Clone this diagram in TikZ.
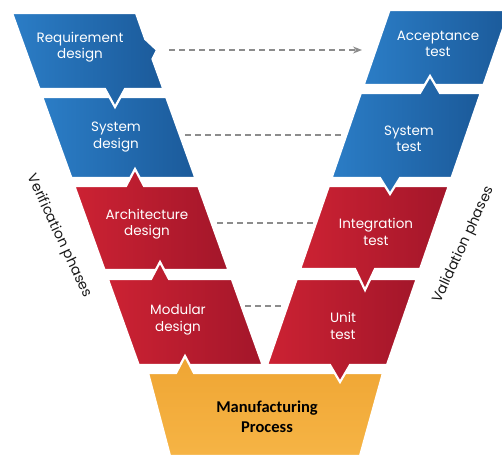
\documentclass[tikz,border=0pt]{standalone}
\usepackage{fontspec}
\newfontfamily\boxfont{Poppins}
\newfontfamily\mfont{Carlito}
\usetikzlibrary{arrows.meta}
\definecolor{blueL}{HTML}{2B7DC6}
\definecolor{blueD}{HTML}{1B5A9A}
\definecolor{redL}{HTML}{CC2233}
\definecolor{redD}{HTML}{A3162A}
\definecolor{orangeL}{HTML}{F6B445}
\definecolor{orangeD}{HTML}{EFA533}
\definecolor{dashgray}{HTML}{8C8C8C}
\tikzset{
  bluebox/.style={draw=white, line width=2.2pt, line join=miter, left color=blueL, right color=blueD},
  redbox/.style={draw=white, line width=2.2pt, line join=miter, left color=redL, right color=redD},
  orangebox/.style={draw=white, line width=2.2pt, line join=miter, top color=orangeD, bottom color=orangeL},
  boxtext/.style={text=white, font=\boxfont\fontsize{13.5}{16.5}\selectfont, align=center, inner sep=0pt},
  mtext/.style={text=black, font=\mfont\bfseries\fontsize{16.5}{20.5}\selectfont, align=center, inner sep=0pt},
  phase/.style={text=black!90, font=\boxfont\fontsize{14}{16}\selectfont, inner sep=0pt},
  link/.style={draw=dashgray, line width=1.1pt, dash pattern=on 6pt off 4pt}
}
\begin{document}
\begin{tikzpicture}[x=1pt,y=-1pt]
\useasboundingbox (0,0) rectangle (502,458);
% left column
\path[bluebox] (42.2,97) -- (166.2,97) -- (195.4,178) -- (71.4,178) -- cycle;
\path[bluebox] (12,13) -- (136,13) -- (145.2,39) -- (157,50) -- (152.5,59) -- (163.4,89)
  -- (125,89) -- (115,107) -- (105,89) -- (39.4,89) -- cycle;
\path[redbox] (74.3,186) -- (126,186) -- (135,169) -- (144,186) -- (198.3,186) -- (228.5,270) -- (104.5,270) -- cycle;
\path[redbox] (107.8,279) -- (151,279) -- (160,262) -- (169,279) -- (231.8,279) -- (262.7,365) -- (138.7,365) -- cycle;
% bottom
\path[orangebox] (148,373) -- (176,373) -- (185,356) -- (194,373) -- (383,373) -- (360,456) -- (170,456) -- cycle;
% right column
\path[redbox] (296.7,279) -- (416.7,279) -- (387,365) -- (350,365) -- (340,382) -- (330,365) -- (267,365) -- cycle;
\path[redbox] (328.8,186) -- (448.8,186) -- (420.1,269) -- (375,269) -- (365,290) -- (355,269) -- (300.1,269) -- cycle;
\path[bluebox] (389.5,10) -- (509.5,10) -- (483.6,85) -- (363.6,85) -- cycle;
\path[bluebox] (360.8,93) -- (420,93) -- (430,76) -- (440,93) -- (480.8,93) -- (451.5,178)
  -- (400,178) -- (390,194) -- (380,178) -- (331.5,178) -- cycle;
% texts
\node[boxtext] (req) at (80,47) {Requirement\\design};
\node[boxtext] (sysd) at (116,137) {System\\design};
\node[boxtext] (arch) at (147,224) {Architecture\\design};
\node[boxtext] (mod) at (178,320) {Modular\\design};
\node[boxtext] (acc) at (438,44) {Acceptance\\test};
\node[boxtext] (syst) at (409,139) {System\\test};
\node[boxtext] (integ) at (376,232) {Integration\\test};
\node[boxtext] (unit) at (343,326) {Unit\\test};
\node[mtext] (manu) at (267,417) {Manufacturing\\Process};
\node[phase, rotate=-65] (ver) at (59,236) {Verification phases};
\node[phase, rotate=65] (val) at (464,245) {Validation phases};
% dashed links
\coordinate (a1) at (169,50); \coordinate (b1) at (362,50);
\coordinate (a2) at (185,135); \coordinate (b2) at (342,135);
\coordinate (a3) at (217,223); \coordinate (b3) at (314,223);
\coordinate (a4) at (245,306); \coordinate (b4) at (283,306);
\draw[link, -{Stealth[length=9pt,width=7pt]}, dashgray] (a1) -- (b1);
\draw[link] (a2) -- (b2);
\draw[link] (a3) -- (b3);
\draw[link] (a4) -- (b4);
\end{tikzpicture}
\end{document}
